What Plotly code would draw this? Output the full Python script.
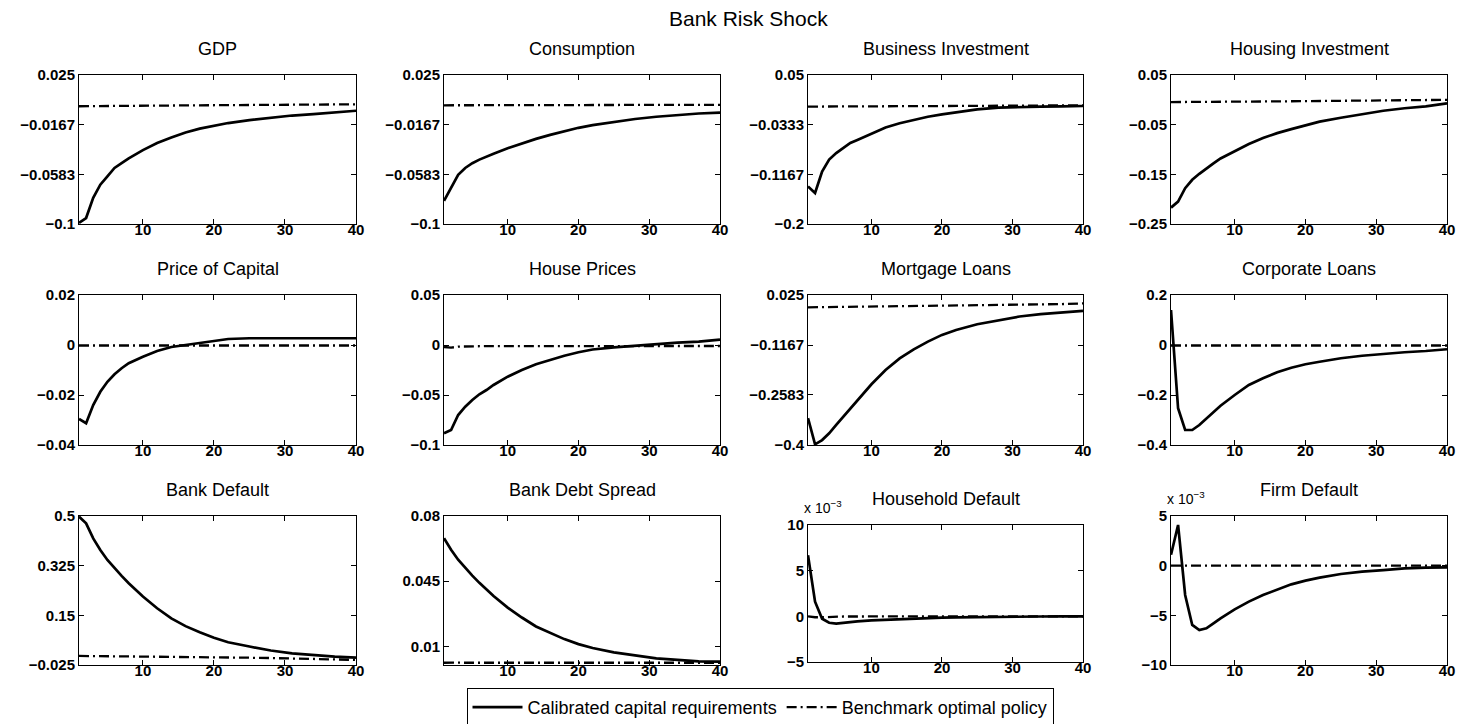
import plotly.graph_objects as go
from plotly.subplots import make_subplots

# ---------------- data ----------------
periods = [1, 2, 3, 4, 5, 6, 7, 8, 10, 12, 14, 16, 18, 20, 22, 25, 28, 31, 34, 37, 40]

gdp_cal = [-0.099, -0.095, -0.078, -0.067, -0.060, -0.053, -0.049, -0.045, -0.038, -0.032, -0.0275,
           -0.0232, -0.0200, -0.0174, -0.0153, -0.0128, -0.0108, -0.009, -0.0078, -0.0064, -0.005]
gdp_bench = [-0.0012, -0.0012, -0.0011, -0.0011, -0.001, -0.001, -0.0009, -0.0009, -0.0008, -0.0007, -0.0006,
             -0.0005, -0.0004, -0.0003, -0.0002, -0.0001, 0.0, 0.0001, 0.0002, 0.0003, 0.0004]

cons_cal = [-0.0805, -0.070, -0.0587, -0.053, -0.049, -0.046, -0.0434, -0.041, -0.0364, -0.0322, -0.0286,
            -0.0252, -0.022, -0.0193, -0.0171, -0.0142, -0.0119, -0.010, -0.0086, -0.0073, -0.0066]
cons_bench = [-0.0004, -0.0004, -0.0004, -0.0004, -0.0004, -0.0004, -0.0004, -0.0004, -0.0003, -0.0003, -0.0003,
              -0.0003, -0.0003, -0.0003, -0.0002, -0.0002, -0.0002, -0.0001, -0.0001, 0.0, 0.0]

businv_cal = [-0.137, -0.148, -0.112, -0.092, -0.081, -0.072, -0.064, -0.059, -0.048, -0.038, -0.031,
              -0.025, -0.020, -0.016, -0.0125, -0.0078, -0.0049, -0.0036, -0.003, -0.0025, -0.002]
businv_bench = [-0.003, -0.003, -0.003, -0.003, -0.003, -0.003, -0.0029, -0.0029, -0.0028, -0.0027, -0.0026,
                -0.0025, -0.0024, -0.0022, -0.002, -0.0018, -0.0016, -0.0014, -0.0012, -0.001, -0.0008]

houseinv_cal = [-0.217, -0.205, -0.178, -0.161, -0.149, -0.138, -0.128, -0.118, -0.103, -0.089, -0.077,
                -0.067, -0.059, -0.051, -0.044, -0.036, -0.029, -0.022, -0.017, -0.013, -0.007]
houseinv_bench = [-0.0045, -0.0045, -0.0044, -0.0043, -0.0042, -0.0041, -0.004, -0.0039, -0.0037, -0.0035, -0.0033,
                  -0.0031, -0.0029, -0.0027, -0.0025, -0.0022, -0.0018, -0.0014, -0.001, -0.0006, 0.0]

pcap_cal = [-0.0296, -0.0313, -0.024, -0.0187, -0.0147, -0.0117, -0.0093, -0.0073, -0.0047, -0.0024, -0.0008,
            0.0, 0.0011, 0.0019, 0.0024, 0.0027, 0.0027, 0.0029, 0.0027, 0.0027, 0.0027]
pcap_bench = [-0.0002, -0.0002, -0.0002, -0.0002, -0.0002, -0.0002, -0.0002, -0.0002, -0.0002, -0.0002, -0.0002,
              -0.0002, -0.0002, -0.0002, -0.0002, -0.0002, -0.0002, -0.0002, -0.0002, -0.0002, -0.0002]

hprice_cal = [-0.0883, -0.085, -0.070, -0.0617, -0.055, -0.0493, -0.045, -0.040, -0.0317, -0.025, -0.0193,
              -0.015, -0.0107, -0.0073, -0.0045, -0.0023, -0.0007, 0.0007, 0.0023, 0.0033, 0.0053]
hprice_bench = [-0.002, -0.0027, -0.0016, -0.0013, -0.0012, -0.0012, -0.0011, -0.0011, -0.0011, -0.001, -0.001,
                -0.001, -0.001, -0.001, -0.001, -0.001, -0.001, -0.001, -0.001, -0.001, -0.001]

mort_cal = [-0.324, -0.398, -0.386, -0.367, -0.343, -0.320, -0.296, -0.2725, -0.228, -0.1875, -0.1545,
            -0.129, -0.107, -0.088, -0.074, -0.058, -0.046, -0.036, -0.029, -0.024, -0.020]
mort_bench = [-0.010, -0.0098, -0.0095, -0.0093, -0.009, -0.0088, -0.0085, -0.0083, -0.0078, -0.0073, -0.0068,
              -0.0063, -0.0058, -0.0053, -0.0048, -0.004, -0.0032, -0.0024, -0.0015, -0.0006, 0.0012]

corp_cal = [0.14, -0.253, -0.34, -0.34, -0.32, -0.293, -0.269, -0.243, -0.200, -0.160, -0.133,
            -0.109, -0.091, -0.077, -0.067, -0.053, -0.043, -0.035, -0.029, -0.024, -0.017]
corp_bench = [-0.002, -0.002, -0.002, -0.002, -0.002, -0.002, -0.002, -0.002, -0.002, -0.002, -0.002,
              -0.002, -0.002, -0.002, -0.002, -0.002, -0.002, -0.002, -0.002, -0.002, -0.002]

bdef_cal = [0.498, 0.474, 0.421, 0.38, 0.345, 0.315, 0.289, 0.263, 0.216, 0.175, 0.139,
            0.112, 0.090, 0.071, 0.055, 0.040, 0.026, 0.016, 0.010, 0.0045, 0.001]
bdef_bench = [0.007, 0.0068, 0.0066, 0.0064, 0.0062, 0.006, 0.0058, 0.0056, 0.005, 0.0045, 0.004,
              0.0034, 0.0028, 0.0022, 0.0016, 0.0006, -0.0005, -0.0018, -0.003, -0.005, -0.007]

spread_cal = [0.0681, 0.0619, 0.0565, 0.0521, 0.048, 0.0441, 0.0406, 0.037, 0.0308, 0.0255, 0.0207,
              0.0171, 0.0139, 0.0112, 0.0091, 0.0068, 0.005, 0.0036, 0.0027, 0.002, 0.0018]
spread_bench = [0.0012, 0.0014, 0.0013, 0.0012, 0.0012, 0.0012, 0.0012, 0.0012, 0.0012, 0.0012, 0.0012,
                0.0012, 0.0012, 0.0012, 0.0012, 0.0012, 0.0012, 0.0012, 0.0012, 0.0012, 0.0012]

# household / firm default in units of 10^-3
hhdef_cal = [6.7, 1.6, -0.26, -0.7, -0.8, -0.7, -0.62, -0.55, -0.44, -0.37, -0.3,
             -0.26, -0.22, -0.15, -0.11, -0.07, -0.04, -0.03, -0.02, -0.01, 0.0]
hhdef_bench = [0.0, -0.1, -0.1, -0.05, -0.03, -0.02, -0.02, -0.01, -0.01, 0.0, 0.0,
               0.0, 0.0, 0.0, 0.0, 0.0, 0.0, 0.0, 0.0, 0.0, 0.0]

firmdef_cal = [1.1, 4.1, -2.95, -5.97, -6.48, -6.3, -5.8, -5.3, -4.4, -3.62, -2.95,
               -2.38, -1.88, -1.51, -1.21, -0.84, -0.6, -0.44, -0.27, -0.2, -0.17]
firmdef_bench = [0.0, 0.0, 0.0, 0.0, 0.0, 0.0, 0.0, 0.0, 0.0, 0.0, 0.0,
                 0.0, 0.0, 0.0, 0.0, 0.0, 0.0, 0.0, 0.0, 0.0, 0.0]

titles = ["GDP", "Consumption", "Business Investment", "Housing Investment",
          "Price of Capital", "House Prices", "Mortgage Loans", "Corporate Loans",
          "Bank Default", "Bank Debt Spread", "Household Default", "Firm Default"]

calibrated = [gdp_cal, cons_cal, businv_cal, houseinv_cal, pcap_cal, hprice_cal, mort_cal, corp_cal,
              bdef_cal, spread_cal, hhdef_cal, firmdef_cal]
benchmark = [gdp_bench, cons_bench, businv_bench, houseinv_bench, pcap_bench, hprice_bench, mort_bench,
             corp_bench, bdef_bench, spread_bench, hhdef_bench, firmdef_bench]

y_ranges = [[-0.1, 0.025], [-0.1, 0.025], [-0.2, 0.05], [-0.25, 0.05],
            [-0.04, 0.02], [-0.1, 0.05], [-0.4, 0.025], [-0.4, 0.2],
            [-0.025, 0.5], [0.0, 0.08], [-5, 10], [-10, 5]]
y_ticks = [[-0.1, -0.0583, -0.0167, 0.025], [-0.1, -0.0583, -0.0167, 0.025],
           [-0.2, -0.1167, -0.0333, 0.05], [-0.25, -0.15, -0.05, 0.05],
           [-0.04, -0.02, 0, 0.02], [-0.1, -0.05, 0, 0.05],
           [-0.4, -0.2583, -0.1167, 0.025], [-0.4, -0.2, 0, 0.2],
           [-0.025, 0.15, 0.325, 0.5], [0.01, 0.045, 0.08],
           [-5, 0, 5, 10], [-10, -5, 0, 5]]
y_ticklabels = [["−0.1", "−0.0583", "−0.0167", "0.025"], ["−0.1", "−0.0583", "−0.0167", "0.025"],
                ["−0.2", "−0.1167", "−0.0333", "0.05"], ["−0.25", "−0.15", "−0.05", "0.05"],
                ["−0.04", "−0.02", "0", "0.02"], ["−0.1", "−0.05", "0", "0.05"],
                ["−0.4", "−0.2583", "−0.1167", "0.025"], ["−0.4", "−0.2", "0", "0.2"],
                ["−0.025", "0.15", "0.325", "0.5"], ["0.01", "0.045", "0.08"],
                ["−5", "0", "5", "10"], ["−10", "−5", "0", "5"]]
x_ticks = [10, 20, 30, 40]
series_names = ["Calibrated capital requirements", "Benchmark optimal policy"]
scaled_panels = [10, 11]  # panels shown in units of 10^-3

# ---------------- layout geometry (pixels) ----------------
W, H = 1466, 724
col_px = [(71, 348), (436, 712), (800, 1075), (1163, 1439)]
row_px = [(67, 216), (287, 437), (508, 657)]
special_px = {10: (517, 654)}

FONT = "Liberation Sans, Arial, sans-serif"

fig = make_subplots(rows=3, cols=4)

annotations = []
for i in range(12):
    r, c = divmod(i, 4)
    x0, x1 = col_px[c]
    y0, y1 = special_px.get(i, row_px[r])
    xd = [x0 / W, x1 / W]
    yd = [1 - y1 / H, 1 - y0 / H]
    fig.add_trace(go.Scatter(x=periods, y=calibrated[i], mode="lines",
                             line=dict(color="black", width=2.7),
                             name=series_names[0], showlegend=(i == 0), legendrank=1),
                  row=r + 1, col=c + 1)
    fig.add_trace(go.Scatter(x=periods, y=benchmark[i], mode="lines",
                             line=dict(color="black", width=2.3, dash="10px,4px,2px,4px"),
                             name=series_names[1], showlegend=(i == 0), legendrank=2),
                  row=r + 1, col=c + 1)
    ax = "" if i == 0 else str(i + 1)
    fig.layout["xaxis" + ax].update(
        domain=xd, range=[1, 40], tickvals=x_ticks,
        ticktext=["<b>%d</b>" % t for t in x_ticks],
        ticks="inside", ticklen=5, tickcolor="black", showline=True, linecolor="black",
        linewidth=1, mirror="ticks", showgrid=False, zeroline=False, automargin=False,
        ticklabelstandoff=-8,
        tickfont=dict(family=FONT, size=15, color="black"))
    fig.layout["yaxis" + ax].update(
        domain=yd, range=y_ranges[i], tickvals=y_ticks[i],
        ticktext=["<b>%s</b>" % t for t in y_ticklabels[i]],
        ticks="inside", ticklen=5, tickcolor="black", showline=True, linecolor="black",
        linewidth=1, mirror="ticks", showgrid=False, zeroline=False, automargin=False,
        tickfont=dict(family=FONT, size=15, color="black"))
    annotations.append(dict(text=titles[i], x=(xd[0] + xd[1]) / 2, y=yd[1], xref="paper", yref="paper",
                            xanchor="center", yanchor="bottom", yshift=14, showarrow=False,
                            font=dict(family=FONT, size=18, color="black")))
    if i in scaled_panels:
        annotations.append(dict(text="x 10<sup>−3</sup>", x=xd[0], y=yd[1], xref="paper", yref="paper",
                                xanchor="left", yanchor="bottom", xshift=-6, yshift=7, showarrow=False,
                                font=dict(family=FONT, size=14, color="black")))

annotations.append(dict(text="Bank Risk Shock", x=740 / W, y=1, xref="paper", yref="paper",
                        xanchor="center", yanchor="top", yshift=3, showarrow=False,
                        font=dict(family=FONT, size=21, color="black")))

fig.update_layout(
    width=W, height=H, autosize=False,
    margin=dict(l=0, r=0, t=0, b=0),
    paper_bgcolor="white", plot_bgcolor="white",
    annotations=annotations,
    showlegend=True,
    legend=dict(orientation="h", x=752 / W, xanchor="center", y=1 - 719 / H, yanchor="bottom",
                bordercolor="black", borderwidth=1, bgcolor="white", itemwidth=50,
                font=dict(family=FONT, size=18, color="black"), traceorder="normal"),
)

fig.write_html("out.html")
